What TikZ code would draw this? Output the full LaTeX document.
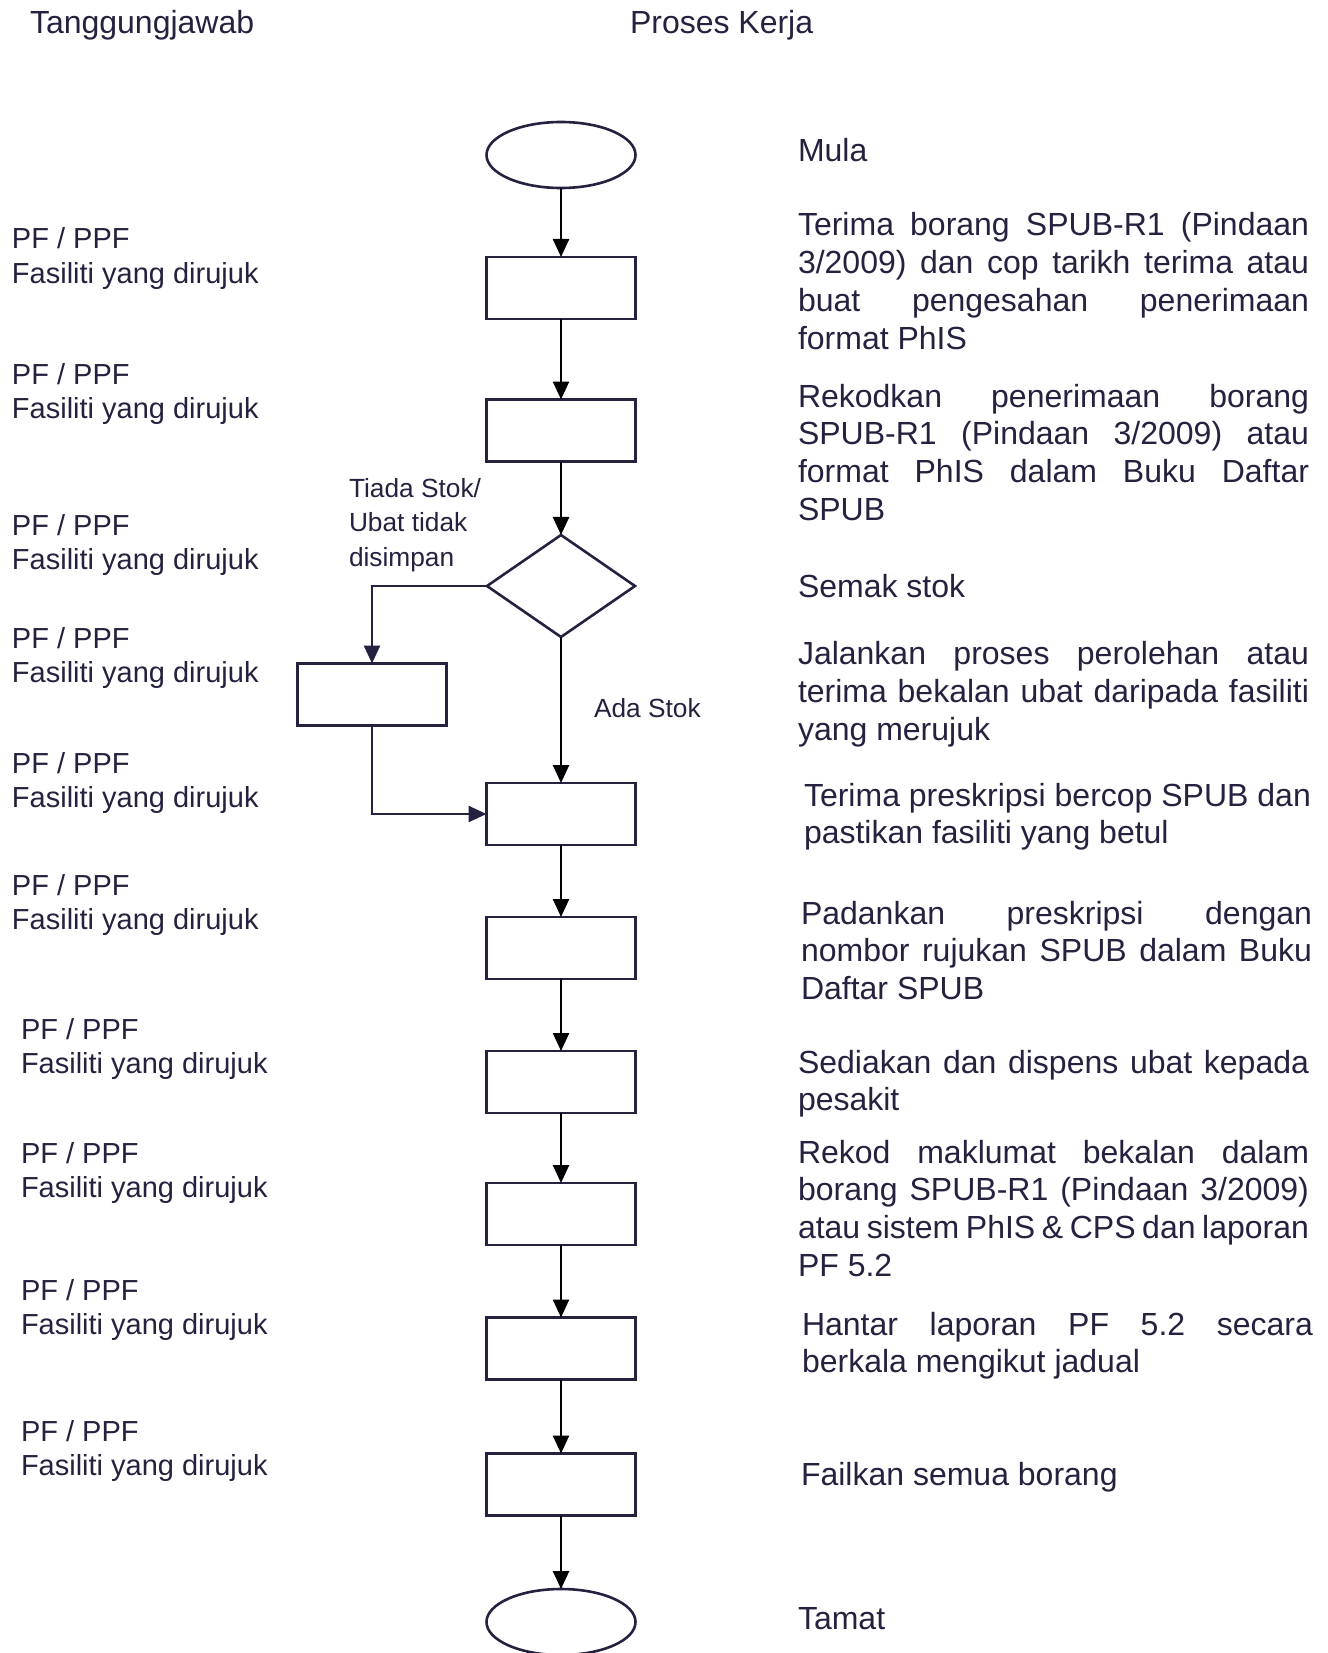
\documentclass[tikz,border=0pt]{standalone}
\usepackage{fontspec}
\setmainfont{Liberation Sans}
\usetikzlibrary{arrows.meta,shapes.geometric}
\definecolor{navy}{HTML}{24223F}
\newcommand\ttlfont{\fontsize{32}{38}\selectfont}
\newcommand\lblfont{\fontsize{29}{34}\selectfont}
\newcommand\rtfont{\fontsize{32}{37.9}\selectfont}
\newcommand\brfont{\fontsize{26.3}{34.8}\selectfont}
% use the font's own interword glue
\newcommand\fontspaces{\spaceskip=0pt\xspaceskip=0pt\relax}
% one fully justified line of the description column
\newcommand\jline[1]{{\fontspaces\makebox[511pt][s]{#1}}}
\begin{document}
\begin{tikzpicture}[x=1pt,y=-1pt,
  every node/.style={inner sep=0pt, outer sep=0pt, text=navy, execute at begin node=\fontspaces},
  proc/.style={draw=navy, line width=2.6pt, rectangle, minimum width=149pt, minimum height=62pt},
  term/.style={draw=navy, line width=2.6pt, ellipse, minimum width=149pt, minimum height=66pt},
  decision/.style={draw=navy, line width=2.6pt, diamond, minimum width=148pt, minimum height=102pt},
  flow/.style={draw=black, line width=2.5pt, -{Triangle[length=18pt,width=16pt]}},
  branch/.style={draw=navy, line width=2.5pt, -{Triangle[length=18pt,width=16pt]}},
  ttl/.style={font=\ttlfont, anchor=base west},
  lbl/.style={font=\lblfont, anchor=base west, align=left, text width=300pt},
  rt/.style={font=\rtfont, anchor=base west, align=left, text width=530pt},
  br/.style={font=\brfont, anchor=base west, align=left, text width=140pt}]
\useasboundingbox (0,0) rectangle (1327,1653);
\clip (0,0) rectangle (1327,1653);

% column headings
\node[ttl] (h1) at (30,34) {Tanggungjawab};
\node[ttl] (h2) at (630,34) {Proses Kerja};

% flow chart shapes
\node[term] (start) at (561,155) {};
\node[proc] (p1) at (561,288) {};
\node[proc] (p2) at (561,430.5) {};
\node[decision] (d) at (561,586) {};
\node[proc] (side) at (372,694.5) {};
\node[proc] (p3) at (561,814) {};
\node[proc] (p4) at (561,948) {};
\node[proc] (p5) at (561,1082) {};
\node[proc] (p6) at (561,1214) {};
\node[proc] (p7) at (561,1348.5) {};
\node[proc] (p8) at (561,1484.5) {};
\node[term] (end) at (561,1622) {};

% connectors
\draw[flow] (start) -- (p1);
\draw[flow] (p1) -- (p2);
\draw[flow] (p2) -- (d);
\draw[flow] (d.south) -- (p3.north);
\draw[branch] (d.west) -| (side.north);
\draw[branch] (side.south) |- (p3.west);
\draw[flow] (p3) -- (p4);
\draw[flow] (p4) -- (p5);
\draw[flow] (p5) -- (p6);
\draw[flow] (p6) -- (p7);
\draw[flow] (p7) -- (p8);
\draw[flow] (p8) -- (end);

% branch labels
\node[br] (nostock) at (349,497) {Tiada Stok/\\Ubat tidak\\disimpan};
\node[br] (stock) at (594,717) {Ada Stok};

% responsibility column
\node[lbl] (r1) at (12,249) {PF / PPF\\Fasiliti yang dirujuk};
\node[lbl] (r2) at (12,384) {PF / PPF\\Fasiliti yang dirujuk};
\node[lbl] (r3) at (12,535) {PF / PPF\\Fasiliti yang dirujuk};
\node[lbl] (r4) at (12,648) {PF / PPF\\Fasiliti yang dirujuk};
\node[lbl] (r5) at (12,773) {PF / PPF\\Fasiliti yang dirujuk};
\node[lbl] (r6) at (12,895) {PF / PPF\\Fasiliti yang dirujuk};
\node[lbl] (r7) at (21,1039) {PF / PPF\\Fasiliti yang dirujuk};
\node[lbl] (r8) at (21,1163) {PF / PPF\\Fasiliti yang dirujuk};
\node[lbl] (r9) at (21,1300) {PF / PPF\\Fasiliti yang dirujuk};
\node[lbl] (r10) at (21,1441) {PF / PPF\\Fasiliti yang dirujuk};

% process descriptions
\node[rt] (t0) at (798,162) {Mula};
\node[rt] (t1) at (798,235.5) {\jline{Terima borang SPUB-R1 (Pindaan}\\\jline{3/2009) dan cop tarikh terima atau}\\\jline{buat pengesahan penerimaan}\\format PhIS};
\node[rt] (t2) at (798,407) {\jline{Rekodkan penerimaan borang}\\\jline{SPUB-R1 (Pindaan 3/2009) atau}\\\jline{format PhIS dalam Buku Daftar}\\SPUB};
\node[rt] (t3) at (798,597) {Semak stok};
\node[rt] (t4) at (798,664.5) {\jline{Jalankan proses perolehan atau}\\\jline{terima bekalan ubat daripada fasiliti}\\yang merujuk};
\node[rt] (t5) at (804,806) {Terima preskripsi bercop SPUB dan\\pastikan fasiliti yang betul};
\node[rt] (t6) at (801,924) {\jline{Padankan preskripsi dengan}\\\jline{nombor rujukan SPUB dalam Buku}\\Daftar SPUB};
\node[rt] (t7) at (798,1073) {\jline{Sediakan dan dispens ubat kepada}\\pesakit};
\node[rt] (t8) at (798,1163) {\jline{Rekod maklumat bekalan dalam}\\\jline{borang SPUB-R1 (Pindaan 3/2009)}\\\jline{atau sistem PhIS \& CPS dan laporan}\\PF 5.2};
\node[rt] (t9) at (802,1335) {\jline{Hantar laporan PF 5.2 secara}\\berkala mengikut jadual};
\node[rt] (t10) at (801,1485.5) {Failkan semua borang};
\node[rt] (t11) at (798,1629) {Tamat};
\end{tikzpicture}
\end{document}
